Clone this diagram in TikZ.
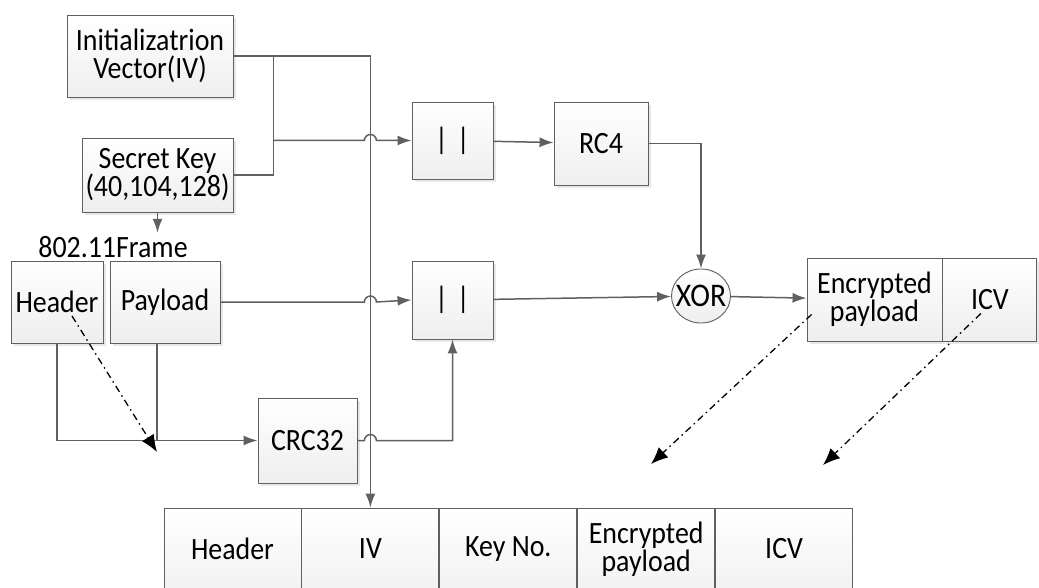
\documentclass[tikz,border=0pt]{standalone}
\usepackage{fontspec}
\setmainfont{Carlito}[FakeStretch=0.9]
\usetikzlibrary{shapes.geometric,arrows.meta,positioning,calc,shadows}

\begin{document}
\begin{tikzpicture}[
  x=1pt, y=-1pt,
  font=\fontsize{31}{28}\selectfont,
  >=Latex,
  every node/.style={align=center},
  box/.style={rectangle, draw=gray!75!black, top color=white, bottom color=gray!13, line width=0.9pt, inner sep=0pt,
              drop shadow={shadow xshift=3pt, shadow yshift=-3pt, fill=gray!18, opacity=1}},
  cell/.style={rectangle, draw=gray!75!black, top color=white, bottom color=gray!10, line width=0.9pt, inner sep=0pt,
               minimum width=137pt, minimum height=82pt},
  opnode/.style={ellipse, draw=gray!75!black, top color=white, bottom color=gray!13, line width=0.9pt, inner sep=0pt,
                 minimum width=59pt, minimum height=54pt, font=\fontsize{33}{33}\selectfont},
  link/.style={draw=gray!75!black, line width=1.5pt},
  flow/.style={link, -{Latex[length=14pt, width=10pt]}},
  mapto/.style={draw=black, line width=1.3pt, dash pattern=on 7pt off 4pt on 1.5pt off 4pt, -{Latex[length=17pt, width=14pt]}}
]
  \useasboundingbox (0,0) rectangle (1039,588);

  % Key material (top left)
  \node[box, minimum width=166pt, minimum height=82pt] (iv) at (150,56) {Initializatrion\\Vector(IV)};
  \node[box, minimum width=151pt, minimum height=74pt] (sk) at (157.5,175) {Secret Key\\(40,104,128)};

  % Plain 802.11 frame
  \node (frm) at (113,247) {802.11Frame};
  \node[box, minimum width=92pt, minimum height=82pt] (hdr) at (57,302) {Header};
  \node[box, minimum width=110pt, minimum height=82pt] (pay) at (165,302) {Payload};
  \node[box, minimum width=99pt, minimum height=85pt] (crc) at (307.5,440.5) {CRC32};

  % Concatenation, key stream and XOR
  \node[box, minimum width=81pt, minimum height=77pt] (cat1) at (452.5,140.5) {|\hspace{9pt}|};
  \node[box, minimum width=94pt, minimum height=83pt] (rc4) at (601,143.5) {RC4};
  \node[box, minimum width=81pt, minimum height=78pt] (cat2) at (452.5,300) {|\hspace{9pt}|};
  \node[opnode] (xor) at (701,296) {\makebox[0pt]{XOR}};

  % Encrypted output
  \node[box, minimum width=135pt, minimum height=83pt] (enc) at (874.5,299.5) {Encrypted\\payload};
  \node[box, minimum width=94pt, minimum height=83pt, right=0pt of enc] (icv) {ICV};

  % Transmitted frame (bottom row)
  \node[cell] (thdr) at (232.5,549) {Header};
  \node[cell, right=0pt of thdr] (tiv) {IV};
  \node[cell, right=0pt of tiv] (tkey) {Key No.};
  \node[cell, right=0pt of tkey] (tenc) {Encrypted\\payload};
  \node[cell, right=0pt of tenc] (ticv) {ICV};

  % Helper points
  \coordinate (kx) at ($(iv.east)+(40,0)$);
  \coordinate (pdrop) at ($(pay.south)+(-8,0)$);
  \coordinate (hdrtip) at (157,452);
  \coordinate (enctip) at (651,464);
  \coordinate (icvtip) at (823,465);

  % Connectors: IV and key
  \draw[flow] (iv.east) -| (tiv.north);
  \draw[link] (sk.east) -| (kx);
  \draw[flow] (kx |- cat1.west) -- ($(tiv.north |- cat1.west)+(-6,0)$) arc (180:360:6) -- (cat1.west);
  \draw[flow] (cat1) -- (rc4);
  \draw[flow] (rc4.east) -| (xor.north);
  \draw[flow] (sk.south) -- (sk.south |- frm.north);

  % Connectors: payload and ICV
  \draw[flow] (pay.east) -- ($(tiv.north |- pay.east)+(-6,0)$) arc (180:360:6) -- (cat2.west);
  \draw[flow] (hdr.south) |- (crc.west);
  \draw[link] (pdrop) -- (pdrop |- crc.west);
  \draw[flow] (crc.east) -- ($(tiv.north |- crc.east)+(-6,0)$) arc (180:360:6) -- (cat2.south |- crc.east) -- (cat2.south);
  \draw[flow] (cat2) -- (xor);
  \draw[flow] (xor) -- (enc);

  % Mapping into the transmitted frame
  \draw[mapto] ($(hdr.center)+(15,14)$) -- (hdrtip);
  \draw[mapto] ($(enc.west)+(5,15)$) -- (enctip);
  \draw[mapto] ($(icv.center)+(-9,14)$) -- (icvtip);
\end{tikzpicture}
\end{document}
